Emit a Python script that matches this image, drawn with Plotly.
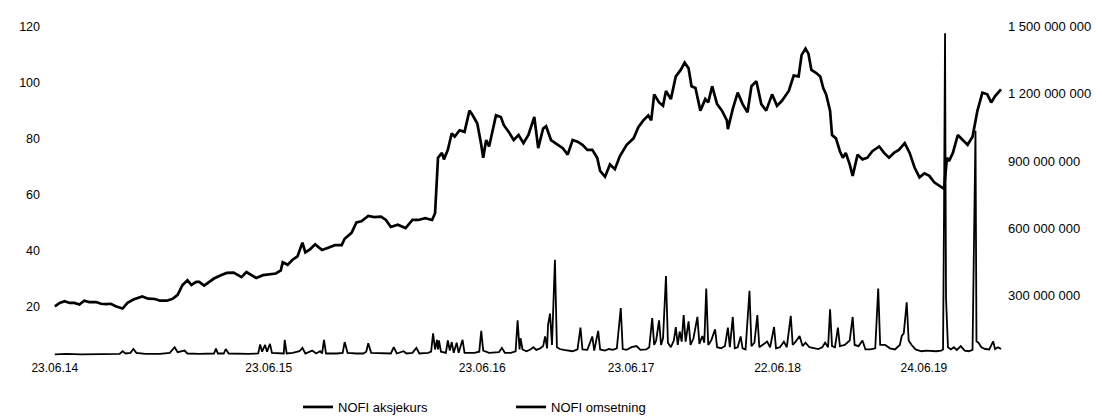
import plotly.graph_objects as go

# ---- data (timeline position units) ----
price_pos = [48, 53, 58, 63, 68, 73, 78, 83, 90, 95, 100, 105, 110, 117, 122, 128, 137, 143, 150, 155,
             162, 168, 173, 178, 183, 187, 192, 195, 200, 205, 210, 217, 223, 230, 233, 238, 243, 248, 253, 260,
             267, 273, 278, 280, 285, 290, 295, 300, 303, 308, 313, 320, 327, 333, 340, 343, 350, 355, 360, 367,
             373, 380, 385, 390, 397, 405, 412, 418, 425, 432, 435, 438, 442, 444, 448, 452, 455, 460, 465, 470,
             473, 478, 482, 484, 487, 490, 493, 497, 502, 505, 510, 515, 520, 525, 530, 536, 540, 545, 548, 553,
             560, 565, 570, 575, 580, 585, 590, 595, 600, 603, 608, 613, 618, 623, 630, 637, 642, 647, 652, 655,
             658, 663, 667, 670, 675, 680, 685, 689, 693, 696, 700, 705, 710, 713, 717, 722, 727, 732, 733, 738,
             743, 748, 753, 757, 762, 767, 772, 778, 783, 788, 795, 800, 805, 808, 812, 815, 818, 823, 827, 830,
             833, 837, 839, 843, 847, 850, 853, 857, 860, 865, 870, 875, 880, 887, 892, 897, 902, 907, 913, 918,
             923, 928, 933, 938, 943, 948, 953, 956, 958, 962, 967, 972, 977, 982, 987, 992, 997, 1001, 1005, 1011]
price = [20.2, 21.4, 22.0, 21.4, 21.4, 20.8, 22.2, 21.7, 21.7, 21.1, 21.0, 21.1, 20.2, 19.4, 21.4, 22.6, 23.7, 22.9, 22.8, 22.2,
         22.2, 22.9, 24.3, 27.8, 29.5, 27.8, 28.9, 28.9, 27.6, 28.9, 30.1, 31.3, 32.1, 32.2, 31.5, 30.6, 32.4, 31.3, 30.3, 31.3,
         31.6, 31.9, 33.0, 35.9, 35.0, 36.8, 38.0, 42.9, 39.4, 40.6, 42.3, 40.3, 41.2, 42.0, 42.0, 44.3, 46.4, 50.1, 50.5, 52.4,
         52.0, 52.2, 51.0, 48.5, 49.3, 48.1, 51.0, 51.0, 51.6, 51.0, 53.4, 73.2, 74.9, 72.6, 76.0, 81.9, 80.7, 83.0, 82.4, 90.0,
         88.5, 85.4, 77.8, 73.2, 79.5, 77.2, 81.9, 88.3, 87.7, 84.8, 82.4, 79.5, 81.3, 78.4, 81.3, 87.7, 76.6, 83.6, 84.4, 79.5,
         77.8, 76.6, 74.3, 79.5, 78.9, 77.8, 76.0, 76.0, 73.2, 68.5, 66.4, 70.8, 69.1, 73.7, 77.8, 80.1, 84.2, 86.5, 88.3, 86.5,
         95.8, 92.9, 91.7, 97.0, 94.1, 102.2, 104.5, 107.1, 105.1, 98.7, 98.1, 90.0, 94.1, 92.9, 98.7, 92.3, 90.0, 86.5, 83.4, 90.6,
         96.4, 92.3, 89.4, 98.7, 100.5, 92.3, 90.0, 95.8, 91.7, 93.5, 97.0, 102.5, 102.2, 109.8, 112.1, 110.3, 104.5, 103.4, 102.2, 98.1,
         95.8, 90.0, 81.3, 80.1, 75.5, 73.2, 74.9, 70.8, 66.7, 74.3, 72.6, 73.2, 75.5, 77.2, 74.9, 73.2, 74.9, 76.0, 78.4, 74.9,
         69.7, 66.2, 67.6, 66.7, 64.4, 63.2, 62.1, 73.2, 72.0, 74.9, 81.3, 79.5, 77.8, 80.7, 90.0, 96.4, 95.8, 92.9, 95.2, 97.6]

vol_pos = [48, 60, 75, 90, 105, 114, 117, 120, 125, 128, 131, 140, 155, 165, 170, 173, 180, 183, 195, 205,
           210, 212, 214, 220, 222, 225, 235, 245, 255, 257, 259, 262, 264, 267, 269, 275, 281, 282, 284, 290,
           297, 300, 303, 310, 314, 318, 320, 322, 324, 335, 341, 343, 346, 355, 362, 365, 367, 370, 380, 390,
           393, 396, 403, 406, 412, 416, 419, 428, 431, 433, 435, 437, 438, 439, 441, 446, 448, 450, 452, 454,
           457, 459, 463, 465, 475, 480, 482, 484, 490, 500, 503, 506, 512, 517, 519, 521, 522, 524, 528, 532,
           535, 538, 542, 545, 547, 549, 550, 552, 554, 557, 559, 562, 566, 570, 575, 580, 583, 585, 590, 595,
           597, 601, 603, 608, 612, 616, 620, 624, 626, 630, 635, 640, 644, 650, 653, 656, 658, 660, 663, 665,
           667, 670, 672, 675, 678, 680, 682, 684, 686, 688, 690, 693, 695, 698, 702, 704, 707, 709, 711, 713,
           716, 720, 722, 726, 730, 733, 735, 738, 740, 743, 746, 748, 751, 755, 757, 760, 763, 765, 768, 773,
           776, 780, 782, 786, 790, 793, 797, 799, 802, 806, 809, 812, 816, 820, 825, 829, 832, 835, 837, 839,
           842, 845, 847, 852, 857, 860, 862, 866, 870, 873, 878, 883, 886, 888, 893, 898, 903, 908, 910, 912,
           915, 917, 920, 924, 930, 935, 940, 945, 950, 952, 953, 954, 955, 957, 960, 963, 966, 970, 974, 978,
           982, 984, 985, 986, 988, 991, 995, 999, 1003, 1005, 1008, 1011]
vol_mnok = [38, 40, 38, 40, 42, 40, 52, 42, 45, 62, 45, 40, 40, 45, 70, 48, 55, 42, 40, 40,
            42, 64, 42, 42, 62, 42, 40, 40, 42, 82, 50, 80, 50, 85, 45, 42, 42, 103, 42, 45,
            52, 67, 42, 55, 42, 52, 42, 103, 42, 42, 45, 93, 45, 42, 42, 50, 88, 45, 42, 42,
            70, 42, 52, 42, 45, 67, 42, 45, 50, 132, 60, 103, 60, 100, 50, 45, 100, 55, 93, 45,
            90, 45, 103, 45, 45, 50, 143, 55, 45, 48, 67, 45, 45, 52, 190, 60, 110, 60, 52, 60,
            70, 58, 65, 75, 118, 65, 170, 220, 80, 460, 70, 62, 58, 55, 52, 60, 157, 60, 58, 118,
            55, 143, 60, 55, 62, 58, 65, 245, 62, 58, 70, 75, 58, 60, 70, 200, 80, 100, 190, 80,
            110, 387, 90, 70, 100, 160, 80, 140, 95, 213, 95, 185, 80, 110, 205, 85, 120, 90, 332, 80,
            100, 150, 70, 65, 75, 157, 70, 205, 65, 70, 118, 65, 60, 322, 75, 90, 213, 70, 80, 95,
            70, 160, 65, 70, 95, 70, 210, 80, 95, 120, 75, 90, 70, 65, 62, 70, 90, 70, 239, 75,
            70, 157, 75, 80, 100, 205, 80, 75, 100, 60, 60, 65, 332, 80, 80, 65, 60, 80, 120, 132,
            270, 100, 80, 60, 52, 55, 52, 52, 55, 60, 680, 1470, 290, 70, 60, 70, 58, 75, 55, 52,
            58, 585, 1035, 96, 90, 70, 62, 60, 96, 62, 70, 62]
vol = [v * 1e6 for v in vol_mnok]

tick_pos = [48, 265.7, 483, 634.5, 783.5, 932.5]
tick_text = ["23.06.14", "23.06.15", "23.06.16", "23.06.17", "22.06.18", "24.06.19"]
left_ticks = [20, 40, 60, 80, 100, 120]
right_ticks = [300e6, 600e6, 900e6, 1200e6, 1500e6]
right_text = ["300 000 000", "600 000 000", "900 000 000", "1 200 000 000", "1 500 000 000"]

FONT = "Liberation Sans, Arial, sans-serif"

fig = go.Figure()
fig.add_trace(go.Scatter(x=price_pos, y=price, mode="lines", name="NOFI aksjekurs",
                         line=dict(color="#000000", width=2.7), yaxis="y"))
fig.add_trace(go.Scatter(x=vol_pos, y=vol, mode="lines", name="NOFI omsetning",
                         line=dict(color="#000000", width=1.8), yaxis="y2",
                         showlegend=False, legendgroup="oms"))
# legend entry for the turnover series drawn with the same thick key as the reference
fig.add_trace(go.Scatter(x=[None], y=[None], mode="lines", name="NOFI omsetning",
                         line=dict(color="#000000", width=2.7), yaxis="y2",
                         legendgroup="oms", hoverinfo="skip"))

# page has an 8px body margin: figure drawn 8px right/down
OFF = 8
W, H = 1102 - OFF, 418 - OFF
L, R, T, B = 36, 1013, 19, 359          # page pixel edges of the plot area
lo = (363 - B) / 2.8625
hi = (363 - T) / 2.8625
fig.update_layout(
    width=W, height=H, autosize=False,
    margin=dict(l=L - OFF, r=W - (R - OFF), t=T - OFF, b=H - (B - OFF), pad=0),
    paper_bgcolor="white", plot_bgcolor="white",
    font=dict(family=FONT, size=12, color="#000000"),
    showlegend=True,
    legend=dict(orientation="h", xref="container", yref="container",
                x=(298 - OFF) / W, xanchor="left", y=1 - (407 - OFF) / H, yanchor="middle",
                font=dict(size=13, family=FONT, color="#000000"),
                entrywidth=168, entrywidthmode="pixels",
                bgcolor="rgba(0,0,0,0)", borderwidth=0, tracegroupgap=0),
    xaxis=dict(range=[L, R], tickvals=tick_pos, ticktext=tick_text, showgrid=False,
               zeroline=False, showline=False, ticks="", tickfont=dict(size=12)),
    yaxis=dict(range=[lo, hi], tickvals=left_ticks, showgrid=False, zeroline=False,
               showline=False, ticks="", tickfont=dict(size=12.5), ticklabelstandoff=2),
    yaxis2=dict(range=[lo * 12.5e6, hi * 12.5e6], tickvals=right_ticks, ticktext=right_text,
                overlaying="y", side="right", showgrid=False, zeroline=False,
                showline=False, ticks="", tickfont=dict(size=13), ticklabelstandoff=4),
)

fig.write_html("out.html")
